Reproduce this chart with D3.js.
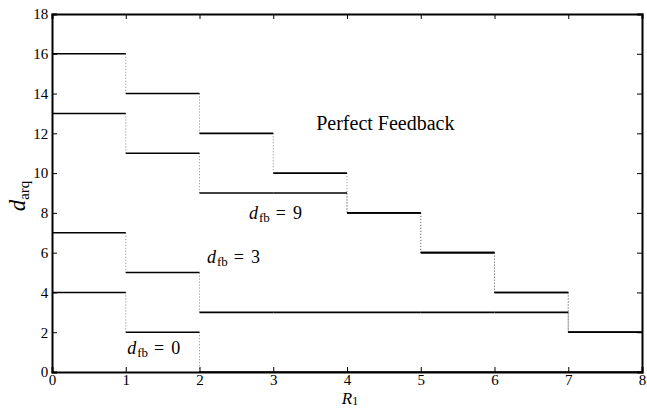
<!DOCTYPE html>
<html>
<head>
  <meta charset="UTF-8">
  <title>d_arq vs R1</title>
  <script src="https://cdn.jsdelivr.net/npm/d3@7.6.1/dist/d3.min.js"></script>
  <style>
    body { margin: 0; background: #fff; }
    svg { display: block; }
    svg text { font-family: "Liberation Serif", "Times New Roman", serif; }
  </style>
</head>
<body>
  <div id="chart"></div>
  <script>
    const width = 647
    const height = 408
    const margin = { left: 52, right: 5, top: 14, bottom: 36 }
    const serif = '"Liberation Serif", "Times New Roman", serif'

    // one value per unit interval of R1 (0-1, 1-2, ... 7-8)
    const rIntervals = [0, 1, 2, 3, 4, 5, 6, 7]
    const perfect = [16, 14, 12, 10, 8, 6, 4, 2]
    const fb9 = [13, 11, 9, 9, 8, 6, 4, 2]
    const fb3 = [7, 5, 3, 3, 3, 3, 3, 2]
    const fb0 = [4, 2, 0, 0, 0, 0, 0, 0]
    const xTicks = [0, 1, 2, 3, 4, 5, 6, 7, 8]
    const yTicks = [0, 2, 4, 6, 8, 10, 12, 14, 16, 18]

    const x = d3.scaleLinear().domain([0, 8]).range([margin.left, width - margin.right])
    const y = d3.scaleLinear().domain([0, 18]).range([height - margin.bottom, margin.top])

    const svg = d3.select('#chart').append('svg')
      .attr('width', width)
      .attr('height', height)

    // dotted risers first so the steps sit on top
    const series = [perfect, fb9, fb3, fb0]
    series.forEach(vals => {
      const risers = vals.slice(1).map((v, i) => ({ x: i + 1, a: vals[i], b: v })).filter(d => d.a !== d.b)
      svg.selectAll(null).data(risers).enter().append('line')
        .attr('x1', d => x(d.x)).attr('x2', d => x(d.x))
        .attr('y1', d => y(d.a)).attr('y2', d => y(d.b))
        .attr('stroke', '#888')
        .attr('stroke-width', 1)
        .attr('stroke-dasharray', '1,2')
    })
    series.forEach(vals => {
      svg.selectAll(null).data(rIntervals).enter().append('line')
        .attr('x1', d => x(d)).attr('x2', d => x(d + 1))
        .attr('y1', d => y(vals[d])).attr('y2', d => y(vals[d]))
        .attr('stroke', '#000')
        .attr('stroke-width', 1.6)
    })

    // axes with inward ticks on all four sides
    const tickLen = 5
    const xb = svg.append('g').attr('transform', `translate(0,${y(0)})`)
      .call(d3.axisBottom(x).tickValues(xTicks).tickSize(-tickLen).tickPadding(8).tickFormat(d3.format('d')))
    const xt = svg.append('g').attr('transform', `translate(0,${y(18)})`)
      .call(d3.axisTop(x).tickValues(xTicks).tickSize(-tickLen).tickFormat(''))
    const yl = svg.append('g').attr('transform', `translate(${x(0)},0)`)
      .call(d3.axisLeft(y).tickValues(yTicks).tickSize(-tickLen).tickPadding(9).tickFormat(d3.format('d')))
    const yr = svg.append('g').attr('transform', `translate(${x(8)},0)`)
      .call(d3.axisRight(y).tickValues(yTicks).tickSize(-tickLen).tickFormat(''))

    ;[xb, xt, yl, yr].forEach(g => {
      g.attr('font-family', null)
      g.select('.domain').attr('stroke', '#000').attr('stroke-width', 2)
      g.selectAll('.tick line').attr('stroke', '#000').attr('stroke-width', 1)
      g.selectAll('.tick text').attr('fill', '#000')
        .style('font-family', serif).style('font-size', '15px')
    })
    xb.selectAll('.tick text').attr('dy', '0.36em')
    yl.selectAll('.tick text').attr('dx', '0.35em')

    // axis titles
    const xLab = svg.append('text')
      .attr('x', x(4) + 3).attr('y', 404)
      .attr('text-anchor', 'middle')
      .style('font-family', serif)
      .style('font-size', '17px')
    xLab.append('tspan').attr('font-style', 'italic').text('R')
    xLab.append('tspan').style('font-size', '12px').attr('dy', 1).text('1')

    const yLab = svg.append('text')
      .attr('transform', `translate(25,196) rotate(-90)`)
      .attr('text-anchor', 'middle')
      .style('font-family', serif)
      .style('font-size', '23px')
    yLab.append('tspan').attr('font-style', 'italic').text('d')
    yLab.append('tspan').style('font-size', '15px').attr('dy', 4).text('arq')

    // annotations
    svg.append('text')
      .attr('x', x(4.52)).attr('y', y(12.18))
      .attr('text-anchor', 'middle')
      .style('font-family', serif)
      .style('font-size', '20px')
      .text('Perfect Feedback')

    const notes = [
      { label: '9', at: [2.67, 7.7] },
      { label: '3', at: [2.1, 5.5] },
      { label: '0', at: [1.02, 0.9] }
    ]
    notes.forEach(n => {
      const t = svg.append('text')
        .attr('x', x(n.at[0])).attr('y', y(n.at[1]))
        .style('font-family', serif)
        .style('font-size', '18px')
      t.append('tspan').attr('font-style', 'italic').text('d')
      t.append('tspan').style('font-size', '13px').attr('dy', 3).attr('dx', 1).text('fb')
      t.append('tspan').attr('dy', -3).attr('dx', 6).text('=')
      t.append('tspan').attr('dx', 7).text(n.label)
    })
  </script>
</body>
</html>
